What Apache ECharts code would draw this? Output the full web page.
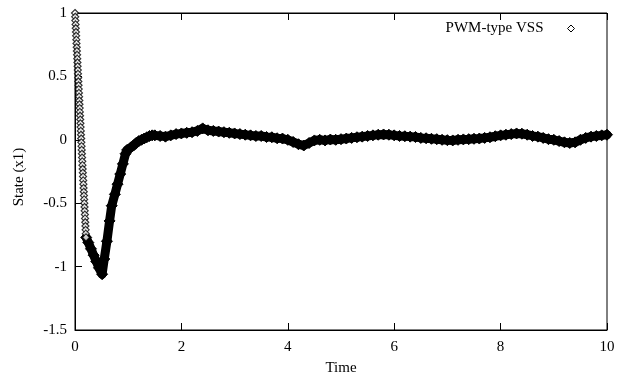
<!DOCTYPE html>
<html>
<head>
<meta charset="utf-8">
<script src="https://cdn.jsdelivr.net/npm/echarts@6/dist/echarts.min.js"></script>
<style>html,body{margin:0;padding:0;background:#fff}#c{width:628px;height:376px}</style>
</head>
<body>
<div id="c"></div>
<script>
// Initial fast drop (individually visible hollow diamonds)
var dropTime = [0, .004, .007, .011, .014, .018, .021, .025, .028, .032, .035, .039, .042, .046, .049, .053, .056, .060, .063, .067, .070, .074, .077, .081, .084, .088, .091, .095, .098, .102, .105, .109, .112, .116, .119, .123, .126, .130, .133, .137, .140, .144, .147, .151, .154, .158, .161, .165, .168, .172, .175, .179, .182, .186, .189, .193, .196, .200, .203, .207];
var dropValue = [1, .97, .94, .91, .88, .85, .82, .79, .76, .73, .70, .67, .64, .61, .58, .55, .52, .49, .46, .43, .40, .37, .34, .31, .28, .25, .22, .19, .16, .13, .10, .07, .04, .01, -.02, -.05, -.08, -.11, -.14, -.17, -.20, -.23, -.26, -.29, -.32, -.35, -.38, -.41, -.44, -.47, -.50, -.53, -.56, -.59, -.62, -.65, -.68, -.71, -.74, -.77];

// Remaining trajectory (dense, overlapping markers forming a thick band)
var bandTime = [0.21, 0.25, 0.30, 0.35, 0.40, 0.45, 0.51, 0.55, 0.60, 0.65, 0.69, 0.75, 0.80, 0.85, 0.90, 0.95, 0.98, 1.05, 1.10, 1.15, 1.20, 1.25, 1.30, 1.35, 1.40, 1.45,
  1.5, 1.6, 1.7, 1.8, 1.9, 2.0, 2.1, 2.2, 2.3, 2.4, 2.5, 2.6, 2.7, 2.8, 2.9, 3.0, 3.1, 3.2, 3.3, 3.4, 3.5, 3.6, 3.7, 3.8, 3.9,
  4.0, 4.1, 4.2, 4.3, 4.4, 4.5, 4.6, 4.7, 4.8, 4.9, 5.0, 5.1, 5.2, 5.3, 5.4, 5.5, 5.6, 5.7, 5.8, 5.9,
  6.0, 6.1, 6.2, 6.3, 6.4, 6.5, 6.6, 6.7, 6.8, 6.9, 7.0, 7.1, 7.2, 7.3, 7.4, 7.5, 7.6, 7.7, 7.8, 7.9,
  8.0, 8.1, 8.2, 8.3, 8.4, 8.5, 8.6, 8.7, 8.8, 8.9, 9.0, 9.1, 9.2, 9.3, 9.4, 9.5, 9.6, 9.7, 9.8, 9.9, 10.0];
var bandValue = [-0.77, -0.81, -0.86, -0.91, -0.96, -1.01, -1.06, -0.94, -0.80, -0.64, -0.52, -0.43, -0.35, -0.27, -0.19, -0.11, -0.08, -0.06, -0.045, -0.025, -0.01, 0.0, 0.01, 0.02, 0.03, 0.035,
  0.035, 0.03, 0.025, 0.035, 0.045, 0.05, 0.055, 0.06, 0.07, 0.09, 0.075, 0.07, 0.065, 0.06, 0.055, 0.05, 0.045, 0.04, 0.035, 0.03, 0.03, 0.022, 0.02, 0.012, 0.01,
  0.0, -0.017, -0.035, -0.045, -0.025, -0.005, 0.0, -0.005, 0.002, 0.0, 0.005, 0.01, 0.015, 0.02, 0.025, 0.03, 0.035, 0.04, 0.042, 0.04,
  0.035, 0.03, 0.028, 0.025, 0.022, 0.015, 0.012, 0.008, 0.005, 0.0, -0.003, -0.005, 0.0, 0.003, 0.005, 0.008, 0.01, 0.015, 0.02, 0.028,
  0.035, 0.04, 0.045, 0.05, 0.048, 0.04, 0.03, 0.025, 0.015, 0.005, 0.0, -0.01, -0.02, -0.025, -0.02, 0.0, 0.015, 0.025, 0.03, 0.035, 0.04];

var xTicks = [0, 2, 4, 6, 8, 10];
var yTicks = [-1.5, -1, -0.5, 0, 0.5, 1];
var seriesName = 'PWM-type VSS';
function pairs(t, v) { return t.map(function (x, i) { return [x, v[i]]; }); }

var FONT = 'Liberation Serif';
var chart = echarts.init(document.getElementById('c'), null, { renderer: 'canvas' });
chart.setOption({
  animation: false,
  backgroundColor: '#ffffff',
  textStyle: { fontFamily: FONT },
  grid: { left: 75, right: 21, top: 13, bottom: 46, show: true, borderColor: '#000', borderWidth: 1, containLabel: false, outerBoundsMode: 'none' },
  legend: {
    data: [{ name: seriesName, icon: 'diamond' }],
    right: 48, top: 16, align: 'right', itemWidth: 7, itemHeight: 7,
    itemStyle: { color: '#fff', borderColor: '#000', borderWidth: 1 },
    formatter: function (n) { return n + '{s|}'; },
    textStyle: { fontFamily: FONT, fontSize: 15, color: '#000', rich: { s: { width: 19 } } }
  },
  xAxis: [{
    type: 'value', min: xTicks[0], max: xTicks[xTicks.length - 1], interval: 2,
    name: 'Time', nameLocation: 'middle', nameGap: 31,
    nameTextStyle: { fontFamily: FONT, fontSize: 15, color: '#000' },
    axisLine: { onZero: false, lineStyle: { color: '#000', width: 1 } },
    axisTick: { inside: true, length: 7, lineStyle: { color: '#000' } },
    axisLabel: { fontFamily: FONT, fontSize: 15, color: '#000', margin: 10 },
    splitLine: { show: false }
  }, {
    type: 'value', position: 'top', min: xTicks[0], max: xTicks[xTicks.length - 1], interval: 2,
    axisLine: { show: true, onZero: false, lineStyle: { color: '#000', width: 1 } },
    axisTick: { inside: true, length: 7, lineStyle: { color: '#000' } },
    axisLabel: { show: false }, splitLine: { show: false }
  }],
  yAxis: {
    type: 'value', min: yTicks[0], max: yTicks[yTicks.length - 1], interval: 0.5,
    name: 'State (x1)', nameLocation: 'middle', nameGap: 48, nameRotate: 90,
    nameTextStyle: { fontFamily: FONT, fontSize: 15, color: '#000', padding: [0, 11, 0, 0] },
    axisLine: { show: true, onZero: false, lineStyle: { color: '#000', width: 1 } },
    axisTick: { inside: true, length: 7, lineStyle: { color: '#000' } },
    axisLabel: { fontFamily: FONT, fontSize: 15, color: '#000', margin: 8 },
    splitLine: { show: false }
  },
  series: [{
    name: seriesName, type: 'line', data: pairs(bandTime, bandValue),
    showSymbol: true, symbol: 'diamond', symbolSize: 11,
    itemStyle: { color: '#000', borderColor: '#000', borderWidth: 1 },
    lineStyle: { color: '#000', width: 9, join: 'round', cap: 'round' },
    silent: true, z: 2
  }, {
    name: seriesName, type: 'scatter', data: pairs(dropTime, dropValue),
    symbol: 'diamond', symbolSize: [7, 7],
    itemStyle: { color: '#fff', borderColor: '#000', borderWidth: 1.2 },
    silent: true, z: 3
  }]
});
</script>
</body>
</html>
